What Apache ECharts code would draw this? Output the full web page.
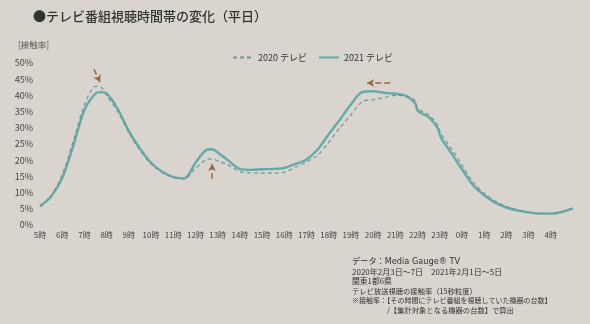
<!DOCTYPE html>
<html><head><meta charset="utf-8">
<script src="https://cdn.jsdelivr.net/npm/echarts@6/dist/echarts.min.js"></script>
<style>html,body{margin:0;padding:0;background:#d9d4ce;}#c{width:590px;height:324px;}</style>
</head><body><div id="c"></div>
<script>
const hours = [5,5.5,6,6.5,7,7.5,7.75,8,8.5,9,9.5,10,10.5,11,11.5,12,12.5,12.75,13,13.5,14,14.5,15,15.5,16,16.5,17,17.5,18,18.5,19,19.5,20,20.5,21,21.5,21.9,22,22.5,22.9,23.05,23.5,24,24.5,25,25.5,26,26.5,27,27.5,28,28.5,29];
const values2021 = [5.8,8.8,14.5,24.5,35.5,40.6,41,40.6,35.8,29,23.6,19.2,16.4,14.8,14.4,19.2,23.2,23.4,22.4,19.8,17.3,17,17.2,17.3,17.6,18.8,20.2,23.3,28,32.5,37.2,41,41.3,40.8,40.5,39.8,37.5,35.3,33.3,30,27,22.4,17.2,12.3,9.2,6.9,5.4,4.5,3.9,3.5,3.5,4.0,5.1];
const values2020 = [5.6,9.0,15.5,26,37,42.8,42.5,40,35,28.5,23,18.8,16.2,14.7,14.2,17.5,20.2,20.4,19.8,18.4,16.5,16.1,16,16,16.3,17.8,19.5,21.5,25.5,30,34,38,38.7,39.3,40,39.8,38.3,36,34,31,28.2,23.8,18.5,13.3,9.8,7.3,5.7,4.7,4.0,3.6,3.6,4.1,5.2];
const seriesNames = ['2020 テレビ','2021 テレビ'];
const yTicks = {min:0,max:50,interval:5};
const xTicks = {min:5,max:29,interval:1};
const noteLines = [
  'データ：Media Gauge® TV',
  '2020年2月3日～7日　2021年2月1日～5日',
  '関東1都6県',
  'テレビ放送視聴の接触率（15秒粒度）',
  '※接触率：【その時間にテレビ番組を視聴していた機器の台数】',
  '/【集計対象となる機器の台数】で算出'
];
const arrows = [
  [[7.43,48.1],[7.7,44.1]],
  [[12.75,14.2],[12.75,18.8]],
  [[20.77,43.8],[19.73,43.8]]
];

const F = '"Noto Sans CJK JP","Noto Sans",sans-serif';
const FW = '"DejaVu Sans","Noto Sans CJK JP",sans-serif';
const chart = echarts.init(document.getElementById('c'), null, {renderer:'canvas'});
const pair = (h,v)=>h.map((x,i)=>[x,v[i]]);
const noteX = [352,352,352,352,352,387];
const noteFont = ['8.2px '+FW,'8px '+F,'7.8px '+F,'7.3px '+F,'7px '+F,'7.3px '+F];
const graphics = [
  {type:'text',left:33,top:10,style:{text:'●テレビ番組視聴時間帯の変化（平日）',font:'500 13px '+F,fill:'#333'}},
  {type:'text',left:18,top:41,style:{text:'[接触率]',font:'8.5px '+F,fill:'#555'}}
];
noteLines.forEach((t,i)=>{
  graphics.push({type:'text',left:noteX[i],top:258+i*9.7,style:{text:t,font:noteFont[i],fill:'#333'}});
});
chart.setOption({
  backgroundColor:'#d9d4ce',
  animation:false,
  textStyle:{fontFamily:F},
  grid:{left:40,right:17,top:63,bottom:99},
  legend:{data:seriesNames,left:227,top:48,itemWidth:20,itemHeight:10,itemGap:11,
    itemStyle:{opacity:0},
    textStyle:{fontSize:9,color:'#333',fontFamily:F}},
  xAxis:{type:'value',min:xTicks.min,max:xTicks.max,interval:xTicks.interval,
    axisLine:{show:false},axisTick:{show:false},splitLine:{show:false},
    axisLabel:{fontSize:8,color:'#444',margin:6,fontFamily:F,
      formatter:v=>v===29?'':(v%24)+'時'}},
  yAxis:{type:'value',min:yTicks.min,max:yTicks.max,interval:yTicks.interval,
    axisLine:{show:false},axisTick:{show:false},splitLine:{show:false},
    axisLabel:{fontSize:9,color:'#444',margin:7,formatter:'{value}%',fontFamily:F}},
  graphic:graphics,
  series:[
    {name:seriesNames[1],type:'line',data:pair(hours,values2021),symbol:'none',smooth:0.3,
      lineStyle:{color:'#64aaa8',width:2.4},itemStyle:{color:'#64aaa8'},z:2,
      markLine:{silent:true,symbol:['none','arrow'],symbolSize:[6,7],label:{show:false},
        lineStyle:{color:'#9c6843',type:'dashed',width:1.5},
        data:arrows.map(a=>[{coord:a[0]},{coord:a[1]}])}},
    {name:seriesNames[0],type:'line',data:pair(hours,values2020),symbol:'none',smooth:0.3,
      lineStyle:{color:'#6f9694',width:1.2,type:[4,3]},itemStyle:{color:'#6f9694'},z:3}
  ]
});
</script></body></html>
